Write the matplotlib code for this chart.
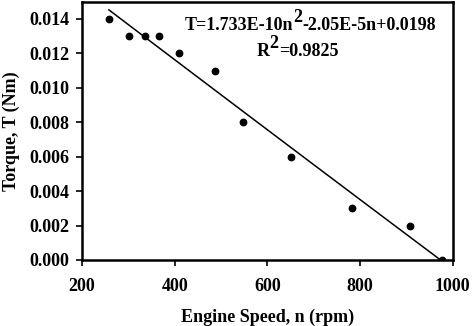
import numpy as np
import matplotlib
matplotlib.use("Agg")
import matplotlib.pyplot as plt

# measured points
speed = [258, 302, 336, 366, 410, 488, 548, 652, 783, 907, 978]
torque = [0.014, 0.013, 0.013, 0.013, 0.012, 0.011, 0.008, 0.006, 0.003, 0.002, 0.0]

# quadratic trend line coefficients (from the equation in the chart)
coef = [1.733e-10, -2.05e-5, 0.0198]

x_ticks = [200, 400, 600, 800, 1000]
y_ticks = [0.000, 0.002, 0.004, 0.006, 0.008, 0.010, 0.012, 0.014]

plt.rcParams['font.family'] = 'Liberation Serif'
plt.rcParams['font.weight'] = 'bold'

fig = plt.figure(figsize=(4.73, 3.26), dpi=100)
ax = fig.add_axes([0.1734, 0.2025, 0.7836, 0.7925])

ax.plot(speed, torque, 'o', color='black', markersize=4.6, zorder=3)
n = np.linspace(min(speed), max(speed), 100)
ax.plot(n, np.polyval(coef, n), color='black', linewidth=1.1)

ax.set_xlim(200, 1000)
ax.set_ylim(0, 0.015)
ax.set_xticks(x_ticks)
ax.set_yticks(y_ticks)
ax.set_xticklabels([str(v) for v in x_ticks])
ax.set_yticklabels([f'{v:.3f}' for v in y_ticks])
ax.tick_params(direction='out', length=4, width=1.2, labelsize=13)
ax.tick_params(axis='x', pad=9)
ax.tick_params(axis='y', pad=5)

for s in ax.spines.values():
    s.set_linewidth(1.8)

ax.set_xlabel('Engine Speed, n (rpm)', fontsize=13, fontweight='bold', labelpad=10)
ax.set_ylabel('Torque, T (Nm)', fontsize=13, fontweight='bold', labelpad=7)


def sup_line(x, y, base, sup, rest, fs=13, rise=6):
    # text with a full-size raised superscript, pieces chained by bbox
    t = ax.text(x, y, base, transform=None, fontsize=fs, fontweight='bold',
                ha='left', va='baseline')
    s = ax.annotate(sup, xy=(1, 0), xycoords=t, xytext=(-0.2, rise),
                    textcoords='offset points', fontsize=fs, fontweight='bold',
                    ha='left', va='bottom')
    ax.annotate(rest, xy=(1, 0), xycoords=s, xytext=(0, -rise),
                textcoords='offset points', fontsize=fs, fontweight='bold',
                ha='left', va='bottom')


sup_line(185, 296, 'T=1.733E-10n', '2', '-2.05E-5n+0.0198')
sup_line(257, 270, 'R', '2', '=0.9825')

fig.savefig('out.png', dpi=100)
